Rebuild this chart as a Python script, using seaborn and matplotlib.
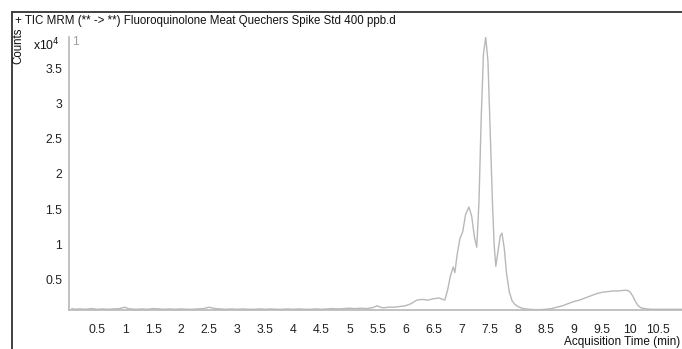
import matplotlib
matplotlib.use("Agg")
from matplotlib import pyplot as plt
from matplotlib.lines import Line2D
import pandas as pd
import seaborn as sns

# acquisition time (min) and counts (x10^4)
time_min = [0.05, 0.1, 0.2, 0.3, 0.4, 0.5, 0.6, 0.7, 0.8, 0.9, 1.0, 1.05, 1.1, 1.2, 1.3,
            1.4, 1.5, 1.6, 1.7, 1.8, 1.9, 2.0, 2.1, 2.2, 2.3, 2.4, 2.5, 2.55, 2.6, 2.7,
            2.8, 2.9, 3.0, 3.1, 3.2, 3.3, 3.4, 3.5, 3.6, 3.7, 3.8, 3.9, 4.0, 4.1, 4.2,
            4.3, 4.4, 4.5, 4.6, 4.7, 4.8, 4.9, 5.0, 5.1, 5.2, 5.3, 5.4, 5.5, 5.55, 5.6,
            5.7, 5.8, 5.9, 6.0, 6.1, 6.2, 6.3, 6.4, 6.5, 6.6, 6.7, 6.75, 6.8, 6.85, 6.88,
            6.92, 6.97, 7.02, 7.07, 7.13, 7.18, 7.23, 7.27, 7.31, 7.35, 7.39, 7.43, 7.47,
            7.51, 7.55, 7.58, 7.61, 7.65, 7.69, 7.72, 7.76, 7.8, 7.85, 7.9, 7.95, 8.0,
            8.1, 8.2, 8.3, 8.4, 8.5, 8.6, 8.7, 8.8, 8.9, 9.0, 9.1, 9.2, 9.3, 9.4, 9.5,
            9.6, 9.7, 9.8, 9.9, 9.95, 10.0, 10.05, 10.1, 10.15, 10.2, 10.3, 10.4, 10.5,
            10.6, 10.7, 10.8, 10.9, 11.0]
counts = [0.09, 0.08, 0.085, 0.08, 0.09, 0.08, 0.085, 0.08, 0.085, 0.09, 0.11, 0.09, 0.085, 0.08, 0.085,
          0.08, 0.09, 0.085, 0.08, 0.085, 0.08, 0.085, 0.08, 0.08, 0.085, 0.09, 0.11, 0.10, 0.09, 0.085,
          0.08, 0.085, 0.08, 0.085, 0.08, 0.08, 0.085, 0.08, 0.085, 0.08, 0.08, 0.085, 0.08, 0.085, 0.08,
          0.08, 0.085, 0.08, 0.085, 0.09, 0.085, 0.09, 0.095, 0.09, 0.095, 0.09, 0.10, 0.13, 0.11, 0.10,
          0.11, 0.11, 0.12, 0.13, 0.16, 0.21, 0.22, 0.21, 0.23, 0.24, 0.21, 0.35, 0.55, 0.68, 0.60,
          0.85, 1.08, 1.18, 1.42, 1.53, 1.40, 1.10, 0.96, 1.6, 2.8, 3.7, 3.94, 3.6,
          2.6, 1.6, 1.0, 0.69, 0.9, 1.12, 1.16, 0.95, 0.6, 0.33, 0.2, 0.15, 0.12,
          0.09, 0.08, 0.075, 0.075, 0.08, 0.09, 0.11, 0.13, 0.16, 0.19, 0.21, 0.24, 0.27, 0.30, 0.32,
          0.33, 0.34, 0.34, 0.35, 0.35, 0.33, 0.27, 0.19, 0.13, 0.10, 0.085, 0.08, 0.08,
          0.08, 0.08, 0.08, 0.08, 0.08]
x_ticks = [0.5, 1, 1.5, 2, 2.5, 3, 3.5, 4, 4.5, 5, 5.5, 6, 6.5, 7, 7.5, 8, 8.5, 9, 9.5, 10, 10.5]
y_ticks = [0.5, 1, 1.5, 2, 2.5, 3, 3.5]

df = pd.DataFrame({"Time": time_min, "Counts": counts})

sns.set_style("white")
plt.rcParams["font.family"] = ["Liberation Sans", "DejaVu Sans"]

fig = plt.figure(figsize=(6.82, 3.49), dpi=100)
ax = fig.add_axes([69 / 682, 1 - 310 / 349, 1 - 69 / 682, (310 - 37) / 349])
sns.lineplot(data=df, x="Time", y="Counts", ax=ax, color="#b8b8b8", linewidth=1.0, estimator=None)

ax.set_xlim(0, 10.93)
ax.set_ylim(0.07, 3.94)
ax.set_xticks(x_ticks)
ax.set_xticklabels([f"{v:g}" for v in x_ticks])
ax.set_yticks(y_ticks)
ax.set_yticklabels([f"{v:g}" for v in y_ticks])
ax.set_xlabel("")
ax.set_ylabel("")
for s in ["top", "right"]:
    ax.spines[s].set_visible(False)
for s in ["left", "bottom"]:
    ax.spines[s].set_color("#b8b8b8")
    ax.spines[s].set_linewidth(1.2)
ax.tick_params(axis="x", direction="out", length=4, width=0.8, color="#b8b8b8",
               pad=6, labelsize=8.8, labelcolor="#222222")
ax.tick_params(axis="y", direction="out", length=3, width=0.8, color="#b8b8b8",
               pad=2, labelsize=8.8, labelcolor="#222222")

# outer frame lines
fig.add_artist(Line2D([12 / 682, 12 / 682], [0, 1 - 12 / 349], color="#333333", linewidth=1.3))
fig.add_artist(Line2D([12 / 682, 1], [1 - 12 / 349, 1 - 12 / 349], color="#333333", linewidth=1.3))

fig.text(15 / 682, 1 - 21 / 349,
         "+ TIC MRM (** -> **) Fluoroquinolone Meat Quechers Spike Std 400 ppb.d",
         fontsize=8.3, va="center", ha="left", color="#111111")
fig.text(18 / 682, 1 - 46 / 349, "Counts", rotation=90, fontsize=8.3, va="center", ha="center",
         color="#111111")
fig.text(33 / 682, 1 - 45 / 349, r"x10$^{4}$", fontsize=8.8, va="center", ha="left",
         color="#111111")
fig.text(72 / 682, 1 - 42 / 349, "1", fontsize=8.8, va="center", ha="left", color="#a0a0a0")
fig.text(680 / 682, 1 - 342 / 349, "Acquisition Time (min)", fontsize=8.5, va="center",
         ha="right", color="#111111")

fig.savefig("out.png", dpi=100)
